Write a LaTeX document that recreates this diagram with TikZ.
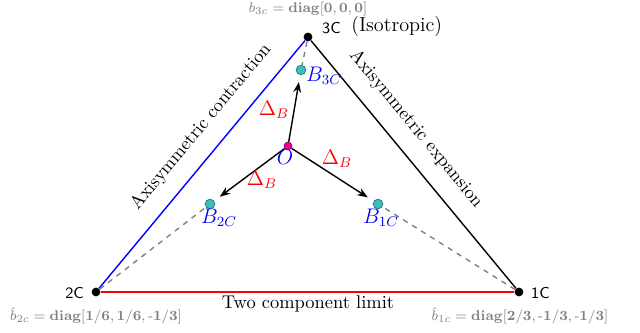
\documentclass[tikz,border=0pt]{standalone}
\usepackage{amsmath}
\usetikzlibrary{arrows.meta}
\definecolor{turq}{RGB}{60,190,190}
\definecolor{dturq}{RGB}{30,120,120}
\begin{document}
\begin{tikzpicture}[x=0.02cm,y=-0.02cm,
  vert/.style={circle,fill=black,inner sep=0pt,minimum size=5pt},
  bpt/.style={circle,fill=turq,draw=dturq,inner sep=0pt,minimum size=5.5pt},
  opt/.style={circle,fill=magenta,draw=violet,inner sep=0pt,minimum size=4.5pt},
  glab/.style={text=gray,font=\footnotesize},
  blab/.style={text=blue,font=\large},
  dlab/.style={text=red,font=\large},
  arr/.style={-{Stealth[length=6pt]},thick,shorten >=4pt},
  dsh/.style={dashed,gray,thick}]
\useasboundingbox (0,0) rectangle (640,333);
\node[vert] (c3) at (308,37) {};
\node[vert] (c2) at (96,292) {};
\node[vert] (c1) at (519,292) {};
\node[bpt] (b3) at (301,70) {};
\node[bpt] (b2) at (210,204) {};
\node[bpt] (b1) at (378,204) {};
\node[opt] (o) at (288,146) {};
\draw[blue,thick] (c2) -- (c3);
\draw[black,thick] (c3) -- (c1);
\draw[red,thick] (c2) -- (c1);
\draw[dsh] (c3) -- (b3);
\draw[dsh] (c2) -- (b2);
\draw[dsh] (c1) -- (b1);
\draw[arr] (o) -- (b3);
\draw[arr] (o) -- (b2);
\draw[arr] (o) -- (b1);
\node[anchor=west,font=\sffamily\small] (l3) at (316,28) {3C};
\node[anchor=west,font=\fontsize{11.5}{14}\selectfont,inner sep=0pt] (iso) at (351,26) {(Isotropic)};
\node[anchor=east,font=\sffamily\small] (l2) at (90,293) {2C};
\node[anchor=west,font=\sffamily\small] (l1) at (525,293) {1C};
\node[glab] (g3) at (308,9) {$b_{3c}=\mathbf{diag[0,0,0]}$};
\node[glab] (g2) at (96,316) {$\hat{b}_{2c}=\mathbf{diag[1/6,1/6,\text{-}1/3]}$};
\node[glab] (g1) at (520,316) {$\hat{b}_{1c}=\mathbf{diag[2/3,\text{-}1/3,\text{-}1/3]}$};
\node[blab,anchor=west] (lb3) at (300,76) {$B_{3C}$};
\node[blab] (lb2) at (219,218) {$B_{2C}$};
\node[blab] (lb1) at (381,218) {$B_{1C}$};
\node[blab] (lo) at (285,157) {$O$};
\node[dlab] (d3) at (274,110) {$\Delta_B$};
\node[dlab] (d1) at (337,159) {$\Delta_B$};
\node[dlab] (d2) at (262,180) {$\Delta_B$};
\node[rotate=50.3,font=\fontsize{10.5}{12}\selectfont] (ac) at (201,127) {Axisymmetric contraction};
\node[rotate=-50.3,font=\fontsize{10.5}{12}\selectfont] (ae) at (416,129) {Axisymmetric expansion};
\node[font=\fontsize{10.5}{12}\selectfont] (tc) at (308,304) {Two component limit};
\end{tikzpicture}
\end{document}
